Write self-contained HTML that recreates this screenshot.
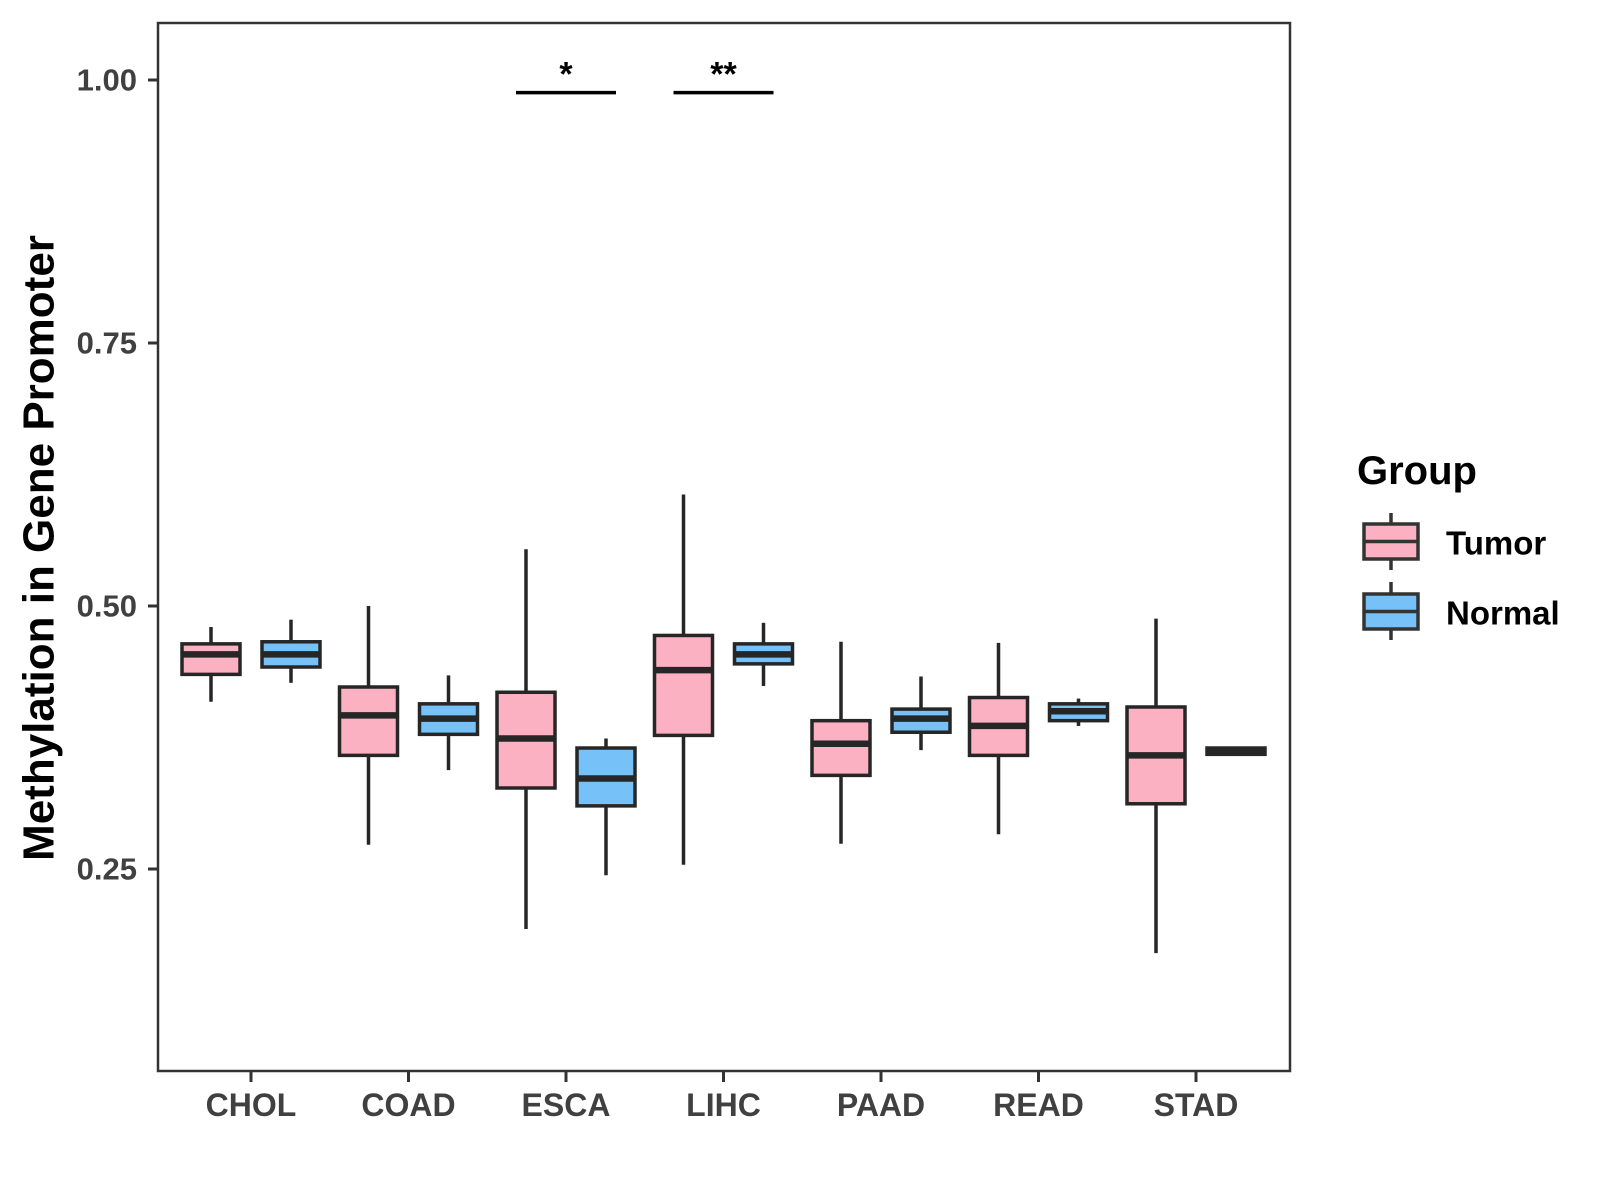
<!DOCTYPE html>
<html><head><meta charset="utf-8"><style>
html,body{margin:0;padding:0;background:#fff}
svg{display:block;font-family:"Liberation Sans",Arial,sans-serif;font-weight:bold}
</style></head><body>
<svg id="chart" width="1600" height="1200" viewBox="0 0 1600 1200">
<rect x="0" y="0" width="1600" height="1200" fill="#fff"/>
<g id="marks"></g>
<rect x="158" y="23" width="1132" height="1048" fill="none" stroke="#333" stroke-width="2.5"/>
<g id="axes"></g>
<text x="39" y="548" transform="rotate(-90 39 548)" text-anchor="middle" dominant-baseline="central" font-size="44" fill="#000">Methylation in Gene Promoter</text>
<g>
<text x="1357" y="484" font-size="40" fill="#000">Group</text>
<g>
<line x1="1391" y1="513" x2="1391" y2="570" stroke="#333" stroke-width="3.5"/>
<rect x="1364" y="524" width="54" height="35" fill="#FBB1C1" stroke="#333" stroke-width="3.5"/>
<line x1="1364" y1="541.5" x2="1418" y2="541.5" stroke="#333" stroke-width="3.5"/>
<text x="1446" y="543" dominant-baseline="central" font-size="33" fill="#000">Tumor</text>
</g>
<g>
<line x1="1391" y1="582" x2="1391" y2="640" stroke="#333" stroke-width="3.5"/>
<rect x="1364" y="594" width="54" height="35" fill="#76C1F8" stroke="#333" stroke-width="3.5"/>
<line x1="1364" y1="611.5" x2="1418" y2="611.5" stroke="#333" stroke-width="3.5"/>
<text x="1446" y="613" dominant-baseline="central" font-size="33" fill="#000">Normal</text>
</g>
</g>
</svg>
<script>
const categories = ["CHOL","COAD","ESCA","LIHC","PAAD","READ","STAD"];
const groups = ["Tumor","Normal"];
const tumorStats = [
 [0.409,0.435,0.454,0.464,0.480],
 [0.273,0.358,0.396,0.423,0.500],
 [0.193,0.327,0.374,0.418,0.554],
 [0.254,0.377,0.439,0.472,0.606],
 [0.274,0.339,0.369,0.391,0.466],
 [0.283,0.358,0.386,0.413,0.465],
 [0.170,0.312,0.358,0.404,0.488]
];
const normalStats = [
 [0.427,0.442,0.454,0.466,0.487],
 [0.344,0.378,0.393,0.407,0.434],
 [0.244,0.310,0.336,0.365,0.374],
 [0.424,0.445,0.454,0.464,0.484],
 [0.363,0.380,0.393,0.402,0.433],
 [0.386,0.391,0.400,0.407,0.412],
 [0.358,0.359,0.362,0.365,0.366]
];
const yTicks = [0.25,0.50,0.75,1.00];
const yTickLabels = ["0.25","0.50","0.75","1.00"];
const sigCategories = ["ESCA","LIHC"];
const sigLabels = ["*","**"];
const sigLevel = [0.988,0.988];

const NS="http://www.w3.org/2000/svg";
function y(v){return 80+(1-v)*1052;}
function x(i){return 251+i*157.5;}
const dodge=40, bw=58;
const fills=["#FBB1C1","#76C1F8"];
function mk(tag,attrs,parent){const e=document.createElementNS(NS,tag);for(const k in attrs)e.setAttribute(k,attrs[k]);parent.appendChild(e);return e;}
const marks=document.getElementById('marks');
const axes=document.getElementById('axes');
[tumorStats,normalStats].forEach((stats,gi)=>{
 stats.forEach((s,ci)=>{
  const cx=x(ci)+(gi===0?-dodge:dodge);
  const g=mk('g',{},marks);
  
  
  mk('line',{x1:cx,x2:cx,y1:y(s[4]),y2:y(s[0]),stroke:'#262626','stroke-width':3.5},g);
  mk('rect',{x:cx-bw/2,y:y(s[3]),width:bw,height:y(s[1])-y(s[3]),fill:fills[gi],stroke:'#262626','stroke-width':3.5},g);
  mk('line',{x1:cx-bw/2,x2:cx+bw/2,y1:y(s[2]),y2:y(s[2]),stroke:'#262626','stroke-width':6.5},g);
 });
});
yTicks.forEach((v,i)=>{
 const l=mk('line',{x1:148,x2:158,y1:y(v),y2:y(v),stroke:'#333','stroke-width':3},axes);
 
 
 const t=mk('text',{x:137,y:y(v),'text-anchor':'end','dominant-baseline':'central','font-size':31,fill:'#404040'},axes);
 t.textContent=yTickLabels[i];
 
 
});
categories.forEach((c,i)=>{
 const l=mk('line',{x1:x(i),x2:x(i),y1:1071,y2:1082,stroke:'#333','stroke-width':3},axes);
 
 
 const t=mk('text',{x:x(i),y:1105,'text-anchor':'middle','dominant-baseline':'central','font-size':32,fill:'#404040'},axes);
 t.textContent=c;
 
 
});
sigCategories.forEach((c,i)=>{
 const ci=categories.indexOf(c);
 const g=mk('g',{},marks);
 
 
 mk('line',{x1:x(ci)-50,x2:x(ci)+50,y1:y(sigLevel[i]),y2:y(sigLevel[i]),stroke:'#000','stroke-width':3.5},g);
 const t=mk('text',{x:x(ci),y:y(sigLevel[i])-7,'text-anchor':'middle','font-size':34,fill:'#000'},g);
 t.textContent=sigLabels[i];
});
</script>
</body></html>
